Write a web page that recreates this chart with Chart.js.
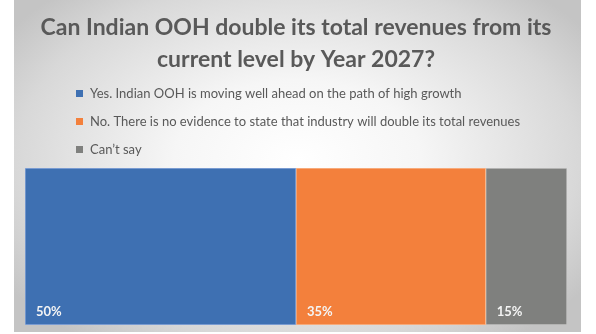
<!DOCTYPE html>
<html>
<head>
<meta charset="utf-8">
<script src="https://cdn.jsdelivr.net/npm/chart.js@4/dist/chart.umd.min.js"></script>
<style>
  html, body { margin: 0; padding: 0; background: #ffffff; }
  #wrap { position: relative; width: 596px; height: 334px; }
  #panel { position: absolute; left: 14px; top: 0; width: 567px; height: 332px;
    background: radial-gradient(ellipse 62% 68% at 50% 48%, #ffffff 0%, #f6f6f6 35%, #d8d8d8 80%, #c4c4c4 100%); }
  canvas { position: absolute; left: 0; top: 0; }
</style>
</head>
<body>
<div id="wrap">
  <div id="panel"></div>
  <canvas id="c" width="596" height="334"></canvas>
</div>
<script>
const titleLines = ["Can Indian OOH double its total revenues from its", "current level by Year 2027?"];
const categories = ["Response"];
const seriesNames = [
  "Yes. Indian OOH is moving well ahead on the path of high growth",
  "No. There is no evidence to state that industry will double its total revenues",
  "Can\u2019t say"
];
const yesValues = [50];
const noValues = [35];
const cantSayValues = [15];
const colors = ["#3e70b2", "#f3803c", "#7f807e"];
const borderColors = ["#8eaadb", "#f8b98f", "#c4c4c4"];

const legendPlugin = {
  id: 'vLegend',
  afterDraw(chart) {
    const ctx = chart.ctx;
    ctx.save();
    ctx.font = '13px Lato, "Open Sans", sans-serif';
    ctx.textBaseline = 'middle';
    chart.data.datasets.forEach((ds, i) => {
      const y = 94 + i * 28;
      ctx.fillStyle = ds.backgroundColor;
      ctx.fillRect(76, y - 4, 7, 7);
      ctx.fillStyle = '#595959';
      ctx.fillText(ds.label, 90, y);
    });
    ctx.restore();
  }
};

const labelPlugin = {
  id: 'barLabels',
  afterDatasetsDraw(chart) {
    const ctx = chart.ctx;
    ctx.save();
    ctx.font = 'bold 13px Lato, "Open Sans", sans-serif';
    ctx.fillStyle = '#f4f4f4';
    ctx.textBaseline = 'middle';
    chart.data.datasets.forEach((ds, i) => {
      const meta = chart.getDatasetMeta(i);
      meta.data.forEach((el, j) => {
        const p = el.getProps(['x', 'y', 'base', 'height'], true);
        const left = Math.min(p.x, p.base);
        ctx.fillText(ds.data[j] + '%', left + 11, p.y + p.height / 2 - 13);
      });
    });
    ctx.restore();
  }
};

new Chart(document.getElementById('c'), {
  type: 'bar',
  data: {
    labels: categories,
    datasets: [
      { label: seriesNames[0], data: yesValues, backgroundColor: colors[0], borderColor: borderColors[0] },
      { label: seriesNames[1], data: noValues, backgroundColor: colors[1], borderColor: borderColors[1] },
      { label: seriesNames[2], data: cantSayValues, backgroundColor: colors[2], borderColor: borderColors[2] }
    ]
  },
  options: {
    indexAxis: 'y',
    responsive: false,
    animation: false,
    layout: { padding: { left: 25, right: 29, top: 0, bottom: 9 } },
    datasets: { bar: { borderWidth: 1, borderSkipped: false, categoryPercentage: 1, barPercentage: 1 } },
    scales: {
      x: { stacked: true, min: 0, max: 100, display: false },
      y: { stacked: true, display: false }
    },
    plugins: {
      legend: { display: false },
      tooltip: { enabled: false },
      title: {
        display: true,
        text: titleLines,
        color: '#595959',
        font: { family: 'Lato, "Open Sans", sans-serif', size: 23, weight: 'bold', lineHeight: 32 / 23 },
        padding: { top: 12, bottom: 92 }
      }
    }
  },
  plugins: [legendPlugin, labelPlugin]
});
</script>
</body>
</html>
